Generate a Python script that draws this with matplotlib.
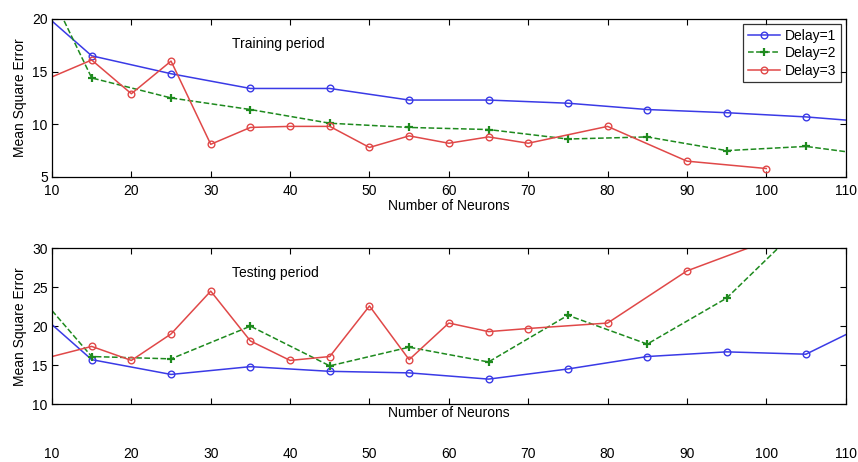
import matplotlib
matplotlib.use("Agg")
import matplotlib.pyplot as plt

plt.rcParams['font.family'] = ['Liberation Sans', 'DejaVu Sans']

# ---- Data ----
x_odd = [10, 15, 25, 35, 45, 55, 65, 75, 85, 95, 105, 110]
x_red = [10, 15, 20, 25, 30, 35, 40, 45, 50, 55, 60, 65, 70, 80, 90, 100]

train_d1 = [19.8, 16.5, 14.8, 13.4, 13.4, 12.3, 12.3, 12.0, 11.4, 11.1, 10.7, 10.4]
train_d2 = [22.2, 14.4, 12.5, 11.4, 10.1, 9.7, 9.5, 8.6, 8.8, 7.5, 7.9, 7.4]
train_d3 = [14.5, 16.1, 12.9, 16.0, 8.1, 9.7, 9.8, 9.8, 7.8, 8.9, 8.2, 8.8, 8.2, 9.8, 6.5, 5.8]

test_d1 = [20.2, 15.7, 13.8, 14.8, 14.2, 14.0, 13.2, 14.5, 16.1, 16.7, 16.4, 18.9]
test_d2 = [22.0, 16.1, 15.8, 20.0, 14.9, 17.3, 15.4, 21.4, 17.7, 23.6, 33.5, 35.0]
test_d3 = [16.1, 17.4, 15.6, 19.0, 24.5, 18.1, 15.6, 16.1, 22.6, 15.7, 20.4, 19.3, 19.7, 20.4, 27.1, 30.9]

labels = ['Delay=1', 'Delay=2', 'Delay=3']
xticks = [10, 20, 30, 40, 50, 60, 70, 80, 90, 100, 110]
yticks_train = [5, 10, 15, 20]
yticks_test = [10, 15, 20, 25, 30]

c_blue = '#3a3ae6'
c_green = '#1e8a1e'
c_red = '#e04848'
FS = 10

fig = plt.figure(figsize=(8.58, 4.62), dpi=100)
ax1 = fig.add_axes([0.0606, 0.617, 0.925, 0.342])
ax2 = fig.add_axes([0.0606, 0.1255, 0.925, 0.337])

def draw(ax, d1, d2, d3):
    ax.plot(x_odd, d1, '-', color=c_blue, lw=1.1, marker='o', ms=4.8,
            mfc='none', mec=c_blue, mew=1.0, markevery=slice(1, -1), label=labels[0])
    ax.plot(x_odd, d2, '--', color=c_green, lw=1.1, marker='+', ms=5.5,
            mec=c_green, mew=1.6, markevery=slice(1, -1), label=labels[1])
    ax.plot(x_red, d3, '-', color=c_red, lw=1.1, marker='o', ms=4.8,
            mfc='none', mec=c_red, mew=1.0, markevery=slice(1, None), label=labels[2])
    ax.set_xlim(10, 110)
    ax.set_xticks(xticks)
    ax.tick_params(direction='in', top=True, right=True, length=4,
                   labelsize=FS, width=0.8)
    ax.tick_params(axis='y', pad=3)
    for s in ax.spines.values():
        s.set_linewidth(0.9)
    ax.set_ylabel('Mean Square Error', fontsize=FS)
    ax.yaxis.set_label_coords(-0.031, 0.5)

draw(ax1, train_d1, train_d2, train_d3)
ax1.set_ylim(5, 20)
ax1.set_yticks(yticks_train)
ax1.tick_params(axis='x', pad=5)
ax1.set_xlabel('Number of Neurons', fontsize=FS)
ax1.xaxis.set_label_coords(0.5, -0.14)
ax1.text(38.5, 17.6, 'Training period', fontsize=FS, ha='center', va='center')
leg = ax1.legend(loc='upper right', fontsize=FS, frameon=True, fancybox=False,
                 edgecolor='black', borderpad=0.35, labelspacing=0.25,
                 handlelength=2.3, handletextpad=0.35, borderaxespad=0.35)
leg.get_frame().set_linewidth(0.9)

draw(ax2, test_d1, test_d2, test_d3)
ax2.set_ylim(10, 30)
ax2.set_yticks(yticks_test)
ax2.tick_params(axis='x', pad=31)
ax2.set_xlabel('Number of Neurons', fontsize=FS)
ax2.xaxis.set_label_coords(0.5, -0.012)
ax2.text(38.1, 26.8, 'Testing period', fontsize=FS, ha='center', va='center')

fig.savefig('out.png', dpi=100)
